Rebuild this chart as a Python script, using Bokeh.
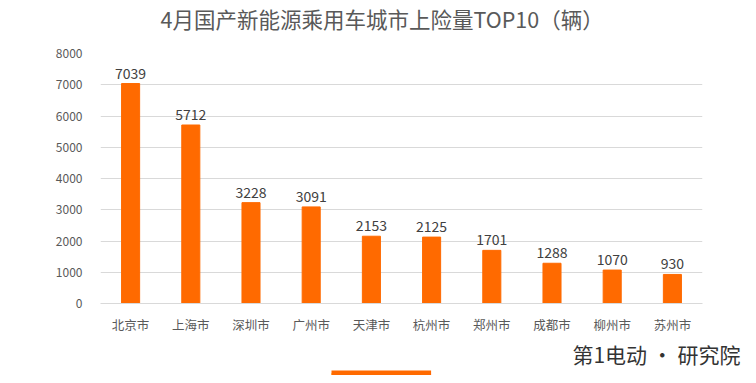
from bokeh.plotting import figure
from bokeh.models import ColumnDataSource, FixedTicker, FactorRange, Range1d, LabelSet, Title
from bokeh.core.properties import value
from bokeh.embed import file_html
from bokeh.resources import INLINE

cities = ["北京市", "上海市", "深圳市", "广州市", "天津市", "杭州市", "郑州市", "成都市", "柳州市", "苏州市"]
values = [7039, 5712, 3228, 3091, 2153, 2125, 1701, 1288, 1070, 930]
labels = [str(v) for v in values]
title_text = "4月国产新能源乘用车城市上险量TOP10（辆）"
brand_text = "第1电动 · 研究院"

FONT = "Noto Sans CJK SC"
ORANGE = "#FF6A00"

src = ColumnDataSource(dict(city=cities, val=values, lab=labels))

p = figure(width=748, height=375, x_range=FactorRange(factors=cities), y_range=Range1d(0, 8000),
           output_backend="svg", toolbar_location=None,
           min_border_left=100, min_border_right=46, min_border_top=51, min_border_bottom=70)
p.outline_line_color = None
p.background_fill_color = "white"
p.border_fill_color = "white"

# spacer between title and plot area
p.add_layout(Title(text=" ", text_font_size="1px", standoff=17), "above")

p.title.text = title_text
p.title.align = "left"
p.title.offset = 60
p.title.vertical_align = "bottom"
p.title.standoff = 0
p.title.text_font = FONT
p.title.text_font_size = "21.5px"
p.title.text_font_style = "normal"
p.title.text_color = "#595959"

p.vbar(x="city", top="val", width=0.3, color=ORANGE, source=src)

p.add_layout(LabelSet(x="city", y="val", text="lab", source=src, text_align="center",
                      text_baseline="bottom", y_offset=5, text_font=value(FONT),
                      text_font_size=value("14px"), text_color="#404040"))

p.yaxis.ticker = FixedTicker(ticks=list(range(0, 8001, 1000)))
p.yaxis.axis_line_color = None
p.yaxis.major_tick_line_color = None
p.yaxis.minor_tick_line_color = None
p.yaxis.major_label_text_font = FONT
p.yaxis.major_label_text_font_size = "12px"
p.yaxis.major_label_text_color = "#595959"
p.yaxis.major_label_standoff = 12

p.xaxis.axis_line_color = "#d9d9d9"
p.xaxis.major_tick_line_color = None
p.xaxis.minor_tick_line_color = None
p.xaxis.major_label_text_font = FONT
p.xaxis.major_label_text_font_size = "12.5px"
p.xaxis.major_label_text_color = "#595959"
p.xaxis.major_label_standoff = 5

p.xgrid.grid_line_color = None
p.ygrid.grid_line_color = "#d9d9d9"

# brand mark below the chart
p.add_layout(Title(text=brand_text, align="right", offset=-38, text_font=FONT, text_font_size="21px",
                   text_font_style="normal", text_color="#333333", standoff=0), "below")

# legend swatch (cut off at bottom edge)
p.add_layout(Title(text="mmmmmmmmmmmmmmmmmmmmmmmmmmmm", align="left", offset=231, text_font_size="4px",
                   text_color=ORANGE, background_fill_color=ORANGE, standoff=0), "below")

open("out.html", "w").write(file_html(p, INLINE))
